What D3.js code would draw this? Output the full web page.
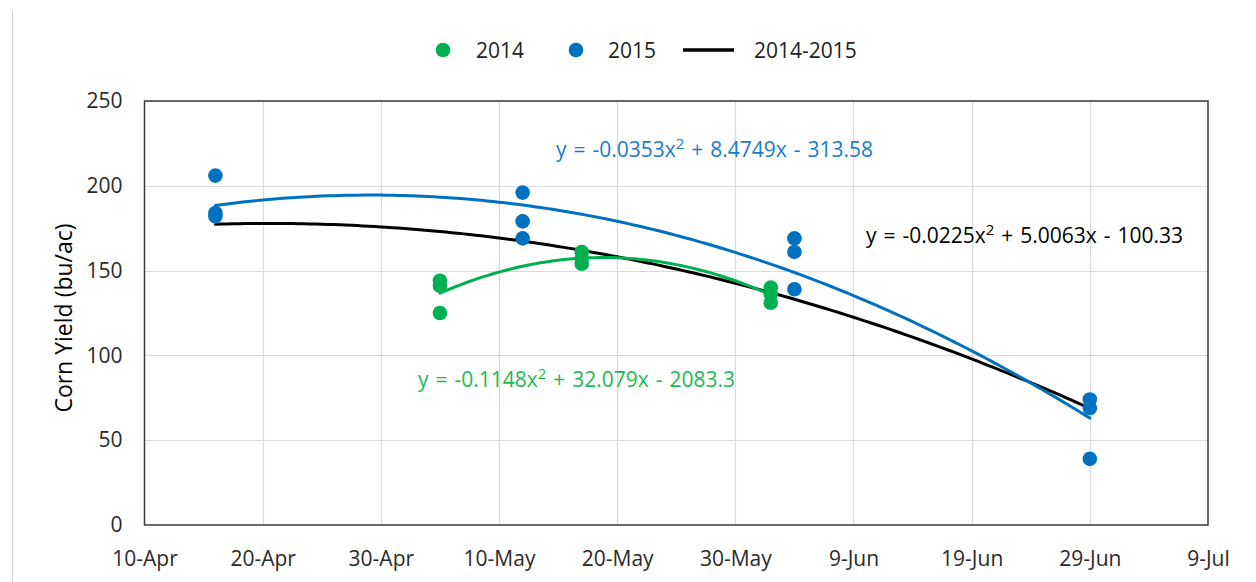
<!DOCTYPE html>
<html>
<head>
<meta charset="utf-8">
<script src="https://cdn.jsdelivr.net/npm/d3@7/dist/d3.min.js"></script>
<style>
  html, body { margin: 0; padding: 0; background: #fff; }
  svg { display: block; }
  text { font-family: "Open Sans", sans-serif; }
</style>
</head>
<body>
<div id="chart"></div>
<script>
// ---------- data ----------
const xTickLabels = ["10-Apr", "20-Apr", "30-Apr", "10-May", "20-May", "30-May", "9-Jun", "19-Jun", "29-Jun", "9-Jul"];
const yTickValues = [0, 50, 100, 150, 200, 250];

// 2014 points (date, yield)
const dates2014 = ["5-May", "5-May", "5-May", "17-May", "17-May", "17-May", "2-Jun", "2-Jun", "2-Jun"];
const yield2014 = [144, 141, 125, 161, 157, 154, 140, 136, 131];

// 2015 points
const dates2015 = ["16-Apr", "16-Apr", "16-Apr", "12-May", "12-May", "12-May", "4-Jun", "4-Jun", "4-Jun", "29-Jun", "29-Jun", "29-Jun"];
const yield2015 = [206, 184, 182, 196, 179, 169, 169, 161, 139, 74, 69, 39];

const seriesNames = ["2014", "2015", "2014-2015"];
const eq2014 = "y = -0.1148x|2| + 32.079x - 2083.3";
const eq2015 = "y = -0.0353x|2| + 8.4749x - 313.58";
const eqAll  = "y = -0.0225x|2| + 5.0063x - 100.33";

// ---------- setup ----------
const W = 1256, H = 582;
const margin = { left: 144.5, right: W - 1208, top: 101, bottom: H - 525 };
const green = "#00b050", blue = "#0070c0", black = "#000000";

const parse = s => d3.utcParse("%d-%b-%Y")(s + "-2015");
const fmt = d3.utcFormat("%-d-%b");

const pts2014 = dates2014.map((d, i) => ({ x: parse(d), y: yield2014[i] }));
const pts2015 = dates2015.map((d, i) => ({ x: parse(d), y: yield2015[i] }));
const ptsAll = pts2014.concat(pts2015);

const xTicks = xTickLabels.map(parse);

const x = d3.scaleUtc()
  .domain([xTicks[0], xTicks[xTicks.length - 1]])
  .range([margin.left, W - margin.right]);
const y = d3.scaleLinear()
  .domain([0, 250])
  .range([H - margin.bottom, margin.top]);

const svg = d3.select("#chart").append("svg")
  .attr("width", W).attr("height", H);

// outer chart frame (left edge visible)
svg.append("line")
  .attr("x1", 12.5).attr("x2", 12.5).attr("y1", 11).attr("y2", H)
  .attr("stroke", "#d0d0d0").attr("stroke-width", 1);

// gridlines
const grid = svg.append("g");
grid.selectAll("line.h").data(yTickValues.slice(1)).join("line")
  .attr("x1", x.range()[0]).attr("x2", x.range()[1])
  .attr("y1", d => Math.round(y(d)) + 0.5).attr("y2", d => Math.round(y(d)) + 0.5)
  .attr("stroke", "#d9d9d9").attr("stroke-width", 1.2);
grid.selectAll("line.v").data(xTicks.slice(1, -1)).join("line")
  .attr("y1", y.range()[0]).attr("y2", y.range()[1])
  .attr("x1", d => Math.round(x(d)) + 0.5).attr("x2", d => Math.round(x(d)) + 0.5)
  .attr("stroke", "#d9d9d9").attr("stroke-width", 1.2);

// plot border
svg.append("rect")
  .attr("x", x.range()[0]).attr("y", y.range()[1])
  .attr("width", x.range()[1] - x.range()[0])
  .attr("height", y.range()[0] - y.range()[1])
  .attr("fill", "none").attr("stroke", "#3a3a3a").attr("stroke-width", 1.5);

// axes (labels only)
const xAxis = d3.axisBottom(x).tickValues(xTicks).tickFormat(fmt).tickSize(0).tickPadding(26);
const gx = svg.append("g").attr("transform", `translate(0,${y.range()[0]})`).call(xAxis);
gx.select(".domain").remove();
gx.selectAll("text").attr("font-size", 21).attr("fill", "#2a2a2a").attr("font-family", "Open Sans");

const yAxis = d3.axisLeft(y).tickValues(yTickValues).tickSize(0).tickPadding(22);
const gy = svg.append("g").attr("transform", `translate(${x.range()[0]},0)`).call(yAxis);
gy.select(".domain").remove();
gy.selectAll("text").attr("font-size", 21).attr("fill", "#2a2a2a").attr("font-family", "Open Sans");

svg.append("text")
  .attr("transform", `translate(72,${(y.range()[0] + y.range()[1]) / 2 + 5}) rotate(-90)`)
  .attr("text-anchor", "middle")
  .attr("font-size", 23).attr("fill", "#000")
  .text("Corn Yield (bu/ac)");

// ---------- quadratic least-squares trendlines ----------
function quadFit(pts) {
  const t0 = xTicks[0].getTime(), day = 86400000;
  let S = [0, 0, 0, 0, 0], T = [0, 0, 0];
  pts.forEach(p => {
    const t = (p.x.getTime() - t0) / day;
    let pw = 1;
    for (let k = 0; k < 5; k++) { S[k] += pw; if (k < 3) T[k] += pw * p.y; pw *= t; }
  });
  const A = [[S[0], S[1], S[2], T[0]], [S[1], S[2], S[3], T[1]], [S[2], S[3], S[4], T[2]]];
  for (let i = 0; i < 3; i++) {
    for (let j = i + 1; j < 3; j++) {
      const f = A[j][i] / A[i][i];
      for (let k = i; k < 4; k++) A[j][k] -= f * A[i][k];
    }
  }
  const c = [0, 0, 0];
  for (let i = 2; i >= 0; i--) {
    let s = A[i][3];
    for (let k = i + 1; k < 3; k++) s -= A[i][k] * c[k];
    c[i] = s / A[i][i];
  }
  const ext = d3.extent(pts, p => (p.x.getTime() - t0) / day);
  const out = [];
  for (let t = ext[0]; t <= ext[1] + 1e-9; t += 0.5) {
    out.push({ x: new Date(t0 + t * day), y: c[0] + c[1] * t + c[2] * t * t });
  }
  return out;
}

const line = d3.line().x(d => x(d.x)).y(d => y(d.y)).curve(d3.curveLinear);
const lines = svg.append("g").attr("fill", "none").attr("stroke-width", 3).attr("stroke-linecap", "round");
lines.append("path").attr("d", line(quadFit(ptsAll))).attr("stroke", black);
lines.append("path").attr("d", line(quadFit(pts2014))).attr("stroke", green);
lines.append("path").attr("d", line(quadFit(pts2015))).attr("stroke", blue);

// points
const R = 7.3;
svg.append("g").selectAll("circle").data(pts2014).join("circle")
  .attr("cx", d => x(d.x)).attr("cy", d => y(d.y)).attr("r", R).attr("fill", green);
svg.append("g").selectAll("circle").data(pts2015).join("circle")
  .attr("cx", d => x(d.x)).attr("cy", d => y(d.y)).attr("r", R).attr("fill", blue);

// equation labels
function eqText(str, px, py, color, width) {
  const t = svg.append("text").attr("x", px).attr("y", py).attr("font-size", 21)
    .attr("fill", color).attr("word-spacing", 1.5);
  const parts = str.split("|");
  t.append("tspan").text(parts[0]);
  t.append("tspan").attr("dy", -8).attr("font-size", 15).text(parts[1]);
  t.append("tspan").attr("dy", 8).text(parts[2]);
}
eqText(eq2015, 556, 157, "#1a7cc9");
eqText(eqAll, 866, 243, "#000");
eqText(eq2014, 418, 387, "#1db954");

// legend
const lg = svg.append("g").attr("font-size", 21).attr("fill", "#222");
lg.append("circle").attr("cx", 443).attr("cy", 50).attr("r", 7.3).attr("fill", green);
lg.append("text").attr("x", 476).attr("y", 57.5).text(seriesNames[0]);
lg.append("circle").attr("cx", 576).attr("cy", 50).attr("r", 7.3).attr("fill", blue);
lg.append("text").attr("x", 608).attr("y", 57.5).text(seriesNames[1]);
lg.append("line").attr("x1", 683).attr("x2", 734).attr("y1", 50).attr("y2", 50)
  .attr("stroke", black).attr("stroke-width", 3.5);
lg.append("text").attr("x", 754).attr("y", 57.5).text(seriesNames[2]);
</script>
</body>
</html>
